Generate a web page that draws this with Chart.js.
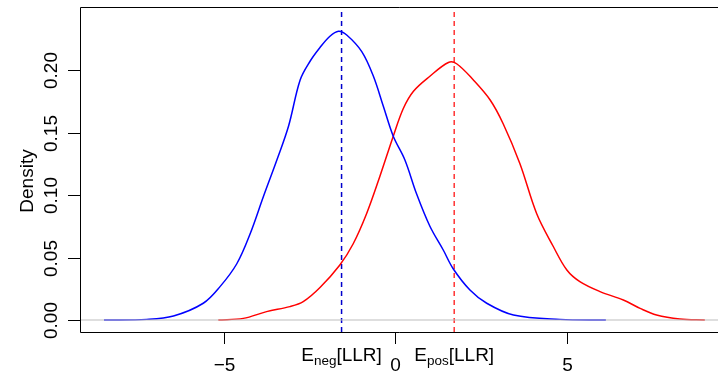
<!DOCTYPE html>
<html>
<head>
<meta charset="utf-8">
<script src="https://cdn.jsdelivr.net/npm/chart.js@4/dist/chart.umd.min.js"></script>
<style>
  html, body { margin: 0; padding: 0; background: #fff; }
  canvas { display: block; }
</style>
</head>
<body>
<canvas id="densityChart" width="718" height="373"></canvas>
<script>
// density of LLR for negatives (blue) and positives (red)
const negX = [-8.51, -7.26, -6.48, -5.61, -5.12, -4.63, -4.24, -3.85, -3.46, -3.12, -2.78, -2.49, -2.20, -1.91, -1.66, -1.42, -0.98, -0.64, -0.35, -0.06, 0.28, 0.62, 1.01, 1.40, 1.69, 2.18, 2.67, 3.45, 4.81, 6.15];
const negY = [0, 0.0005, 0.0032, 0.0134, 0.0267, 0.045, 0.069, 0.099, 0.128, 0.155, 0.192, 0.207, 0.218, 0.227, 0.231, 0.228, 0.2147, 0.195, 0.171, 0.147, 0.128, 0.101, 0.075, 0.056, 0.041, 0.024, 0.0134, 0.004, 0.0005, 0];
const posX = [-5.17, -4.44, -3.76, -3.08, -2.69, -2.20, -1.62, -1.23, -0.84, -0.45, -0.06, 0.23, 0.53, 1.01, 1.55, 1.79, 2.28, 2.77, 3.15, 3.64, 4.13, 4.61, 5.01, 5.39, 5.98, 6.66, 7.15, 7.63, 8.31, 9.04];
const posY = [0, 0.0013, 0.0067, 0.0107, 0.0147, 0.026, 0.044, 0.061, 0.085, 0.115, 0.147, 0.169, 0.183, 0.195, 0.206, 0.205, 0.192, 0.176, 0.157, 0.125, 0.085, 0.059, 0.040, 0.0307, 0.0227, 0.016, 0.0093, 0.004, 0.0008, 0];
const negMean = -1.57;
const posMean = 1.72;
const xTicks = [-5, 0, 5];
const xTickLabels = ['\u22125', '0', '5'];
const yTicks = [0, 0.05, 0.10, 0.15, 0.20];
const yTickLabels = ['0.00', '0.05', '0.10', '0.15', '0.20'];

const FONT = '"Liberation Sans", Arial, Helvetica, sans-serif';
const xMin = -9.21, xMax = 9.425, yMin = -0.0096, yMax = 0.2504;

const pts = (xs, ys) => xs.map((x, i) => ({ x: x, y: ys[i] }));

// R-style axes, box and the E[LLR] labels
const rAxes = {
  id: 'rAxes',
  afterDraw(chart) {
    const { ctx, chartArea: a, scales: { x, y } } = chart;
    ctx.save();
    ctx.strokeStyle = '#000';
    ctx.lineWidth = 1;
    ctx.beginPath();
    ctx.moveTo(chart.width, a.top + 0.5);
    ctx.lineTo(a.left + 0.5, a.top + 0.5);
    ctx.lineTo(a.left + 0.5, a.bottom + 0.5);
    ctx.lineTo(chart.width, a.bottom + 0.5);
    ctx.stroke();

    ctx.fillStyle = '#000';
    ctx.font = '19px ' + FONT;
    // x ticks
    xTicks.forEach((v, i) => {
      const px = Math.round(x.getPixelForValue(v)) + 0.5;
      ctx.beginPath();
      ctx.moveTo(px, a.bottom);
      ctx.lineTo(px, a.bottom + 12);
      ctx.stroke();
      ctx.textAlign = 'center';
      ctx.textBaseline = 'alphabetic';
      ctx.fillText(xTickLabels[i], px, 371);
    });
    // y ticks
    yTicks.forEach((v, i) => {
      const py = Math.round(y.getPixelForValue(v)) + 0.5;
      ctx.beginPath();
      ctx.moveTo(a.left - 12, py);
      ctx.lineTo(a.left, py);
      ctx.stroke();
      ctx.save();
      ctx.translate(57, py);
      ctx.rotate(-Math.PI / 2);
      ctx.textAlign = 'center';
      ctx.textBaseline = 'alphabetic';
      ctx.fillText(yTickLabels[i], 0, 0);
      ctx.restore();
    });
    // y title
    ctx.save();
    ctx.translate(33, 181);
    ctx.rotate(-Math.PI / 2);
    ctx.textAlign = 'center';
    ctx.fillText('Density', 0, 0);
    ctx.restore();

    // E_sub[LLR] labels under the dashed lines
    const subLabel = (sub, cx) => {
      ctx.textAlign = 'left';
      ctx.font = '19px ' + FONT;
      const wE = ctx.measureText('E').width;
      const wR = ctx.measureText('[LLR]').width;
      ctx.font = '13.5px ' + FONT;
      const wS = ctx.measureText(sub).width;
      let sx = cx - (wE + wS + wR) / 2;
      ctx.font = '19px ' + FONT;
      ctx.fillText('E', sx, 361);
      sx += wE;
      ctx.font = '13.5px ' + FONT;
      ctx.fillText(sub, sx, 365);
      sx += wS;
      ctx.font = '19px ' + FONT;
      ctx.fillText('[LLR]', sx, 361);
    };
    subLabel('neg', x.getPixelForValue(negMean));
    subLabel('pos', x.getPixelForValue(posMean));
    ctx.restore();
  }
};

new Chart(document.getElementById('densityChart').getContext('2d'), {
  type: 'line',
  data: {
    datasets: [
      {
        label: 'zero',
        data: pts([xMin, xMax], [0, 0]),
        borderColor: '#bebebe',
        borderWidth: 1.2
      },
      {
        label: 'neg',
        data: pts(negX, negY),
        borderColor: '#0000ff',
        borderWidth: 1.5,
        tension: 0.35
      },
      {
        label: 'pos',
        data: pts(posX, posY),
        borderColor: '#ff0000',
        borderWidth: 1.5,
        tension: 0.35
      },
      {
        label: 'E neg',
        data: pts([negMean, negMean], [yMin, yMax]),
        borderColor: '#0000cc',
        borderWidth: 1.5,
        borderDash: [5, 4]
      },
      {
        label: 'E pos',
        data: pts([posMean, posMean], [yMin, yMax]),
        borderColor: '#ff3333',
        borderWidth: 1.5,
        borderDash: [5, 4]
      }
    ]
  },
  options: {
    responsive: false,
    animation: false,
    events: [],
    layout: { padding: { left: 80, top: 7, right: 0, bottom: 41 } },
    elements: { point: { radius: 0 } },
    plugins: { legend: { display: false }, tooltip: { enabled: false } },
    scales: {
      x: { type: 'linear', min: xMin, max: xMax, display: false },
      y: { min: yMin, max: yMax, display: false }
    }
  },
  plugins: [rAxes]
});
</script>
</body>
</html>
